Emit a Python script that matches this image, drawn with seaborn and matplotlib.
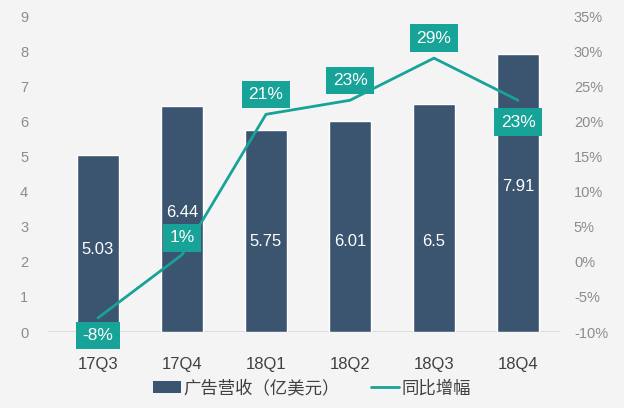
import matplotlib
matplotlib.use("Agg")
import matplotlib.pyplot as plt
import seaborn as sns
import numpy as np
import pandas as pd
from matplotlib.patches import Patch
from matplotlib.lines import Line2D

categories = ["17Q3", "17Q4", "18Q1", "18Q2", "18Q3", "18Q4"]
revenue = [5.03, 6.44, 5.75, 6.01, 6.5, 7.91]
growth = [-8, 1, 21, 23, 29, 23]
left_ticks = [0, 1, 2, 3, 4, 5, 6, 7, 8, 9]
right_ticks = [-10, -5, 0, 5, 10, 15, 20, 25, 30, 35]
bar_name = "广告营收（亿美元）"
line_name = "同比增幅"

# layout: vertical offsets (points) of the growth boxes; heights of the bar value texts
label_offset = [-12.6, 12.2, 14.4, 14.4, 14.4, -15.8]
value_text_y = [2.34, 3.39, 2.59, 2.59, 2.59, 4.13]

BG = "#F4F4F4"
BAR = "#3B5470"
TEAL = "#17A398"

sns.set_theme(style="white")
plt.rcParams["font.family"] = ["Liberation Sans", "Noto Sans CJK SC", "DejaVu Sans"]

fig = plt.figure(figsize=(6.24, 4.08), dpi=100, facecolor=BG)
ax = fig.add_axes([47.6 / 624, 76 / 408, (560 - 47.6) / 624, 316 / 408])
ax.set_facecolor(BG)

df = pd.DataFrame({"cat": categories, "rev": revenue, "g": growth})
sns.barplot(data=df, x="cat", y="rev", color=BAR, saturation=1, width=0.51, ax=ax)
ax.set_xlim(-0.6, 5.5)
ax.set_ylim(0, 9)
ax.set_yticks(left_ticks)
ax.set_yticklabels([str(t) for t in left_ticks])
for s in ax.spines.values():
    s.set_visible(False)
ax.axhline(0, color="#D9D9D9", lw=1.2, zorder=0)
ax.tick_params(axis="y", colors="#8C8C8C", labelsize=10.5, length=0, pad=14)
ax.tick_params(axis="x", colors="#404040", labelsize=12, length=0, pad=18)
ax.set_xlabel("")
ax.set_ylabel("")

for i, v in enumerate(revenue):
    ax.text(i, value_text_y[i], f"{v:g}", color="white", ha="center", va="center", fontsize=12)

ax2 = ax.twinx()
ax2.set_ylim(-10, 35)
ax2.set_yticks(right_ticks)
ax2.set_yticklabels([f"{t}%" for t in right_ticks])
ax2.tick_params(axis="y", colors="#8C8C8C", labelsize=10.5, length=0, pad=10)
for s in ax2.spines.values():
    s.set_visible(False)
ax2.grid(False)
ax.grid(False)

sns.lineplot(x=np.arange(len(categories)), y=growth, color=TEAL, lw=2.0, ax=ax2, legend=False)
ax2.set_xlim(-0.6, 5.5)

for i, g in enumerate(growth):
    ax2.annotate(f"{g}%", xy=(i, g), xytext=(0, label_offset[i]), textcoords="offset points",
                 ha="center", va="center", color="white", fontsize=12.5,
                 bbox=dict(boxstyle="square,pad=0.36", fc=TEAL, ec="none"))

handles = [Patch(facecolor=BAR, edgecolor="none"), Line2D([0], [0], color=TEAL, lw=2)]
fig.legend(handles, [bar_name, line_name], loc="center", bbox_to_anchor=(0.5, 20 / 408),
           ncol=2, frameon=False, fontsize=12.5, handlelength=1.6, handleheight=0.7,
           handletextpad=0.15, columnspacing=1.8, labelcolor="#404040")

fig.savefig("out.png", dpi=100, facecolor=BG)
